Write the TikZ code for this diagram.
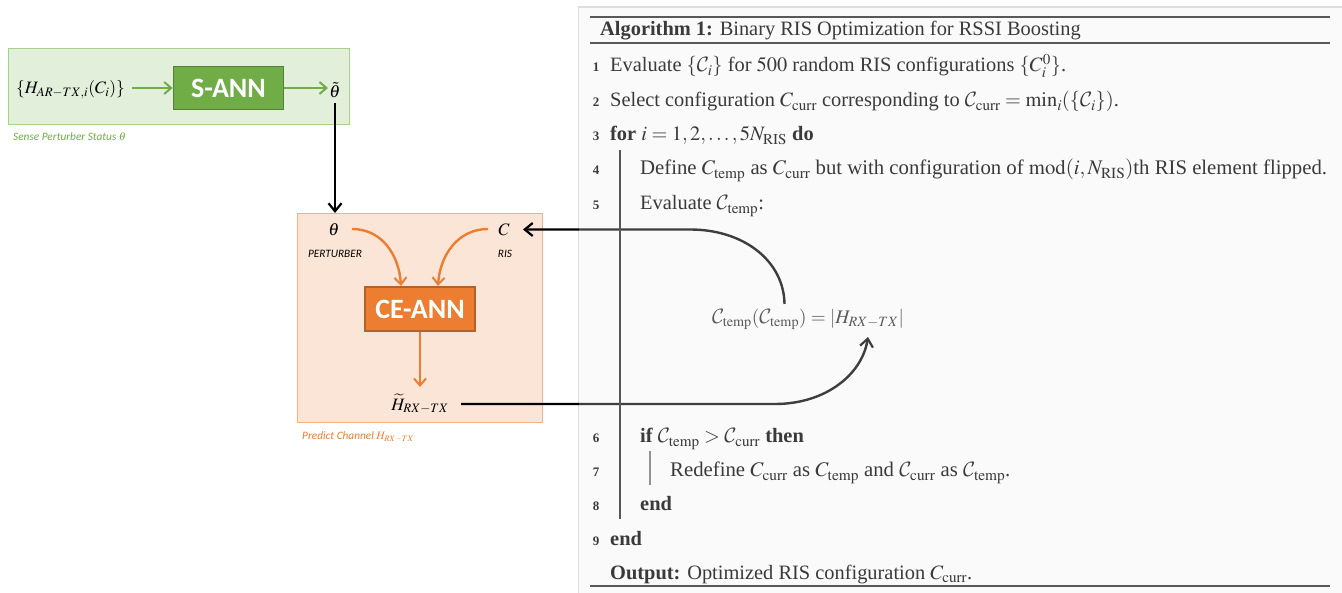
\documentclass[tikz,border=0pt]{standalone}
\usepackage{amsmath}
\IfFileExists{mathptmx.sty}{\usepackage{mathptmx}}{}
\usepackage[no-math]{fontspec}
\DeclareMathAlphabet{\mathcal}{OMS}{cmsy}{m}{n}
\setmainfont{Liberation Serif}
\newfontfamily\calib{Carlito}
\usetikzlibrary{arrows.meta}
\definecolor{gfill}{HTML}{E2EFDA}
\definecolor{gline}{HTML}{A9D18E}
\definecolor{gbox}{HTML}{70AD47}
\definecolor{gdark}{HTML}{548235}
\definecolor{ofill}{HTML}{FBE5D6}
\definecolor{oline}{HTML}{F4B183}
\definecolor{obox}{HTML}{ED7D31}
\definecolor{odark}{HTML}{B4622A}
\definecolor{algbg}{HTML}{FAFAFA}
\definecolor{algtx}{HTML}{3A3A3A}
\tikzset{
  x=1pt,y=-1pt,
  region/.style={draw,line width=1pt,minimum width=0pt},
  annbox/.style={draw,line width=1.6pt,text=white,font=\calib\bfseries\fontsize{28}{28}\selectfont,inner sep=0pt},
  head/.style={-{Straight Barb[length=7pt,width=12pt,line width=2pt]},line width=2.4pt},
  blk/.style={-{Straight Barb[length=8pt,width=13pt,line width=2.2pt]},black,line width=2.4pt},
  gflow/.style={head,color=gbox},
  oflow/.style={head,color=obox},
  mlabel/.style={font=\fontsize{17.4}{18}\selectfont,inner sep=0pt},
  small/.style={font=\calib\itshape\fontsize{11.3}{12}\selectfont,inner sep=0pt},
  capt/.style={font=\calib\itshape\fontsize{11.3}{12}\selectfont,inner sep=0pt,anchor=west},
  algline/.style={anchor=base west,inner sep=0pt,text=algtx,font=\fontsize{20.4}{21}\selectfont},
  widealg/.style={algline,font=\fontsize{20.75}{21}\selectfont},
  lnum/.style={anchor=base,inner sep=0pt,text=algtx,font=\bfseries\fontsize{13}{13}\selectfont},
  rule/.style={color=algtx!85,line width=1.8pt},
}
\begin{document}
\begin{tikzpicture}
\useasboundingbox (0,0) rectangle (1342,593);
\fill[white] (0,0) rectangle (1342,593);
% algorithm page
\path[fill=algbg,draw=black!13,line width=1.2pt] (1345,7) -- (578.5,7) -- (578.5,596) -- (1345,596);
% green region
\node[region,draw=gline,fill=gfill,minimum width=341pt,minimum height=76pt,inner sep=0pt] (sense) at (179,87) {};
\node[annbox,draw=gdark,fill=gbox,minimum width=110pt,minimum height=43pt] (sann) at (228.5,88) {S-ANN};
\node[mlabel,anchor=center] (in) at (70.5,90) {$\{H_{AR-TX,i}(C_i)\}$};
\node[mlabel] (ttilde) at (335,90) {$\tilde{\theta}$};
\node[capt,text=gbox] (scap) at (13,137) {Sense Perturber Status $\theta$};
\coordinate (ina) at (132,88);
\coordinate (outa) at (328,88);
\draw[gflow] (ina) -- (sann.west);
\draw[gflow] (sann.east) -- (outa);
% orange region
\node[region,draw=oline,fill=ofill,minimum width=245pt,minimum height=209pt,inner sep=0pt] (predict) at (420,318.5) {};
\node[annbox,draw=odark,fill=obox,minimum width=110pt,minimum height=44pt] (ceann) at (420,309) {CE-ANN};
\node[mlabel] (theta) at (334,229.5) {$\theta$};
\node[mlabel] (cris) at (504,229.5) {$C$};
\node[small] (pert) at (335,254) {PERTURBER};
\node[small] (ris) at (505,254) {RIS};
\node[mlabel] (hrx) at (420,404) {$\widetilde{H}_{RX-TX}$};
\node[capt,text=obox] (pcap) at (302,437) {Predict Channel $H_{RX-TX}$};
\coordinate (ta) at (352,229);
\coordinate (ca) at (488,229);
\coordinate (c1) at (401,286);
\coordinate (c2) at (438,286);
\coordinate (ha) at (420,387);
\draw[oflow] (ta) .. controls (382,229) and (399,255) .. (c1);
\draw[oflow] (ca) .. controls (458,229) and (440,255) .. (c2);
\draw[oflow] (ceann.south) -- (ha);
% formula
\node[font=\fontsize{19.2}{20}\selectfont,text=black!85,inner sep=0pt] (formula) at (808,319) {$\mathcal{C}_{\mathrm{temp}}(\mathcal{C}_{\mathrm{temp}})=|H_{RX-TX}|$};
% connectors
\coordinate (hstart) at (461,404);
\coordinate (cstart) at (784.5,304);
\coordinate (hend) at (868,337);
\coordinate (cend) at (523,229.5);
\coordinate (tstart) at (335,103);
\coordinate (tend) at (335,213);
\draw[blk] (tstart) -- (tend);
\draw[blk] (hstart) -- (775,404) .. controls (825,404) and (862,375) .. (hend);
\draw[blk] (cstart) .. controls (784,262) and (745,229.5) .. (690,229.5) -- (cend);
% wash over the algorithm page
\fill[algbg,opacity=.25] (579,8) rectangle (1342,593);
% algorithm rules
\draw[rule] (590,17) -- (1330,17);
\draw[rule] (590,43) -- (1330,43);
\draw[rule] (590,586) -- (1330,586);
\draw[algtx!85,line width=1.2pt] (620,150) -- (620,519);
\draw[algtx!55,line width=1.2pt] (650,451) -- (650,485);
% algorithm text
\node[algline] (t0) at (600,36) {\textbf{Algorithm 1:} Binary RIS Optimization for RSSI Boosting};
\node[lnum] (n1) at (596,72) {1};
\node[algline] (t1) at (610,72) {Evaluate $\{\mathcal{C}_i\}$ for $500$ random RIS configurations $\{C_i^0\}$.};
\node[lnum] (n2) at (596,107) {2};
\node[algline] (t2) at (610,107) {Select configuration $C_{\mathrm{curr}}$ corresponding to $\mathcal{C}_{\mathrm{curr}}=\min_i(\{\mathcal{C}_i\})$.};
\node[lnum] (n3) at (596,141) {3};
\node[algline] (t3) at (610,141) {\textbf{for} $i=1,2,\ldots,5N_{\mathrm{RIS}}$ \textbf{do}};
\node[lnum] (n4) at (596,175) {4};
\node[widealg] (t4) at (640,175) {Define $C_{\mathrm{temp}}$ as $C_{\mathrm{curr}}$ but with configuration of $\mathrm{mod}(i,N_{\mathrm{RIS}})$th RIS element flipped.};
\node[lnum] (n5) at (596,210) {5};
\node[algline] (t5) at (640,210) {Evaluate $\mathcal{C}_{\mathrm{temp}}$:};
\node[lnum] (n6) at (596,443) {6};
\node[algline] (t6) at (640,443) {\textbf{if} $\mathcal{C}_{\mathrm{temp}}>\mathcal{C}_{\mathrm{curr}}$ \textbf{then}};
\node[lnum] (n7) at (596,477) {7};
\node[widealg] (t7) at (670,477) {Redefine $C_{\mathrm{curr}}$ as $C_{\mathrm{temp}}$ and $\mathcal{C}_{\mathrm{curr}}$ as $\mathcal{C}_{\mathrm{temp}}$.};
\node[lnum] (n8) at (596,511) {8};
\node[algline] (t8) at (640,511) {\textbf{end}};
\node[lnum] (n9) at (596,545) {9};
\node[algline] (t9) at (610,545) {\textbf{end}};
\node[algline] (t10) at (610,579) {\textbf{Output:} Optimized RIS configuration $C_{\mathrm{curr}}$.};
\end{tikzpicture}
\end{document}
